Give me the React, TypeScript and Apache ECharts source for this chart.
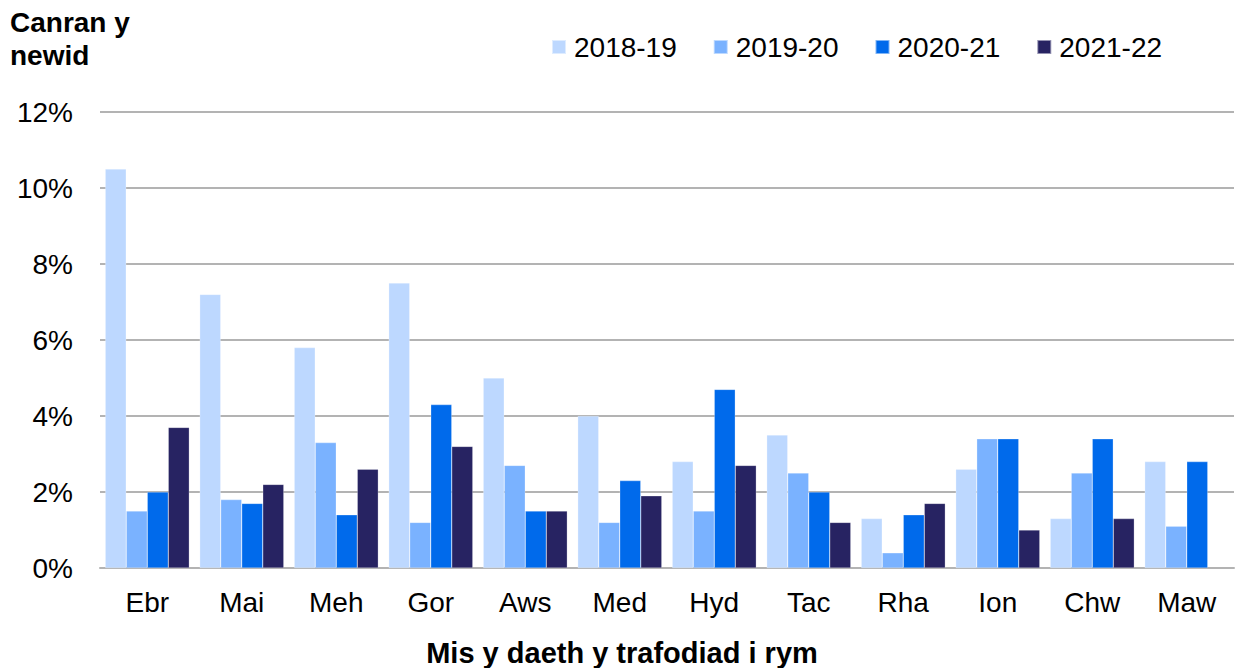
import React, { useEffect, useRef } from "react";
import * as echarts from "echarts";

const categories = ["Ebr", "Mai", "Meh", "Gor", "Aws", "Med", "Hyd", "Tac", "Rha", "Ion", "Chw", "Maw"];
const seriesNames = ["2018-19", "2019-20", "2020-21", "2021-22"];
const s2018 = [10.5, 7.2, 5.8, 7.5, 5.0, 4.0, 2.8, 3.5, 1.3, 2.6, 1.3, 2.8];
const s2019 = [1.5, 1.8, 3.3, 1.2, 2.7, 1.2, 1.5, 2.5, 0.4, 3.4, 2.5, 1.1];
const s2020 = [2.0, 1.7, 1.4, 4.3, 1.5, 2.3, 4.7, 2.0, 1.4, 3.4, 3.4, 2.8];
const s2021 = [3.7, 2.2, 2.6, 3.2, 1.5, 1.9, 2.7, 1.2, 1.7, 1.0, 1.3, null];
const colors = ["#BDD8FF", "#7AB2FF", "#006AEB", "#272362"];

export default function App() {
  const ref = useRef<HTMLDivElement>(null);
  useEffect(() => {
    if (!ref.current) return;
    const chart = echarts.init(ref.current, undefined, { renderer: "svg" });
    const font = "'Liberation Sans', Arial, sans-serif";
    const data = [s2018, s2019, s2020, s2021];
    chart.setOption({
      animation: false,
      textStyle: { fontFamily: font },
      title: {
        text: "Canran y\nnewid",
        left: 10,
        top: 6,
        padding: 0,
        textStyle: { fontFamily: font, fontSize: 28, fontWeight: "bold", color: "#000", lineHeight: 33 },
      },
      legend: {
        left: 551,
        top: 33,
        padding: 0,
        itemWidth: 14,
        itemHeight: 14,
        itemGap: 36,
        icon: "rect",
        textStyle: { fontFamily: font, fontSize: 28, color: "#000", padding: [0, 0, 0, 3] },
        data: seriesNames,
      },
      grid: { left: 100, right: 3, top: 112, bottom: 100, containLabel: false, outerBoundsMode: "none" },
      xAxis: {
        type: "category",
        data: categories,
        name: "Mis y daeth y trafodiad i rym",
        nameLocation: "middle",
        nameGap: 70,
        nameTextStyle: { fontFamily: font, fontSize: 29, fontWeight: "bold", color: "#000", padding: [0, 90, 0, 0] },
        axisLine: { lineStyle: { color: "#B3B3B3", width: 2 } },
        axisTick: { length: 8, lineStyle: { color: "#B3B3B3", width: 2 } },
        axisLabel: { fontFamily: font, fontSize: 28, color: "#000", margin: 20 },
      },
      yAxis: {
        type: "value",
        min: 0,
        max: 12,
        interval: 2,
        axisLine: { show: false },
        axisTick: { show: false },
        axisLabel: { fontFamily: font, fontSize: 28, color: "#000", margin: 27, formatter: "{value}%" },
        splitLine: { lineStyle: { color: "#B3B3B3", width: 2 } },
      },
      series: seriesNames.map((n, i) => ({
        name: n,
        type: "bar",
        data: data[i],
        barGap: "0%",
        barCategoryGap: "11%",
        itemStyle: { color: colors[i], borderColor: "rgba(255,255,255,0.5)", borderWidth: 0.5 },
      })),
    });
    return () => chart.dispose();
  }, []);
  return <div ref={ref} style={{ width: 1237, height: 668, position: "absolute", left: 0, top: 0 }} />;
}
